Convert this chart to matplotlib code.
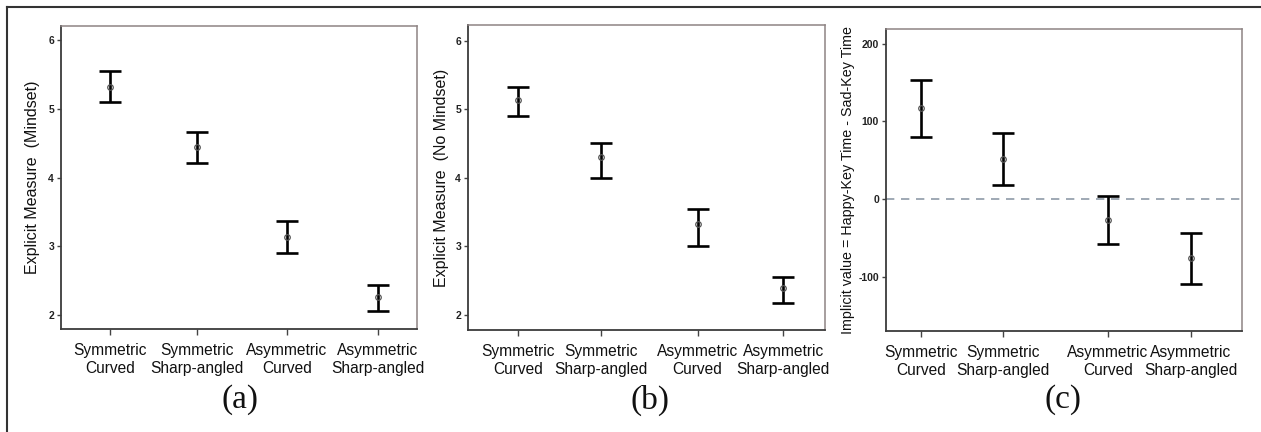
import matplotlib
matplotlib.use("Agg")
import matplotlib.pyplot as plt
from matplotlib.lines import Line2D

plt.rcParams['font.family'] = ['Liberation Sans', 'DejaVu Sans']

categories = ["Symmetric\nCurved", "Symmetric\nSharp-angled",
              "Asymmetric\nCurved", "Asymmetric\nSharp-angled"]

# (a) explicit measure, mindset condition
mindset_mean = [5.32, 4.44, 3.13, 2.25]
mindset_low = [5.10, 4.21, 2.90, 2.05]
mindset_high = [5.56, 4.66, 3.37, 2.43]

# (b) explicit measure, no-mindset condition
nomindset_mean = [5.13, 4.30, 3.32, 2.40]
nomindset_low = [4.90, 4.00, 3.00, 2.18]
nomindset_high = [5.33, 4.51, 3.54, 2.55]

# (c) implicit value (happy-key time minus sad-key time)
implicit_mean = [116.9, 51.6, -26.7, -76.6]
implicit_low = [80.4, 18.1, -57.3, -109.7]
implicit_high = [153.5, 85.2, 4.3, -44.4]

explicit_ticks = [2, 3, 4, 5, 6]
implicit_ticks = [-100, 0, 100, 200]

W, H = 1261, 432
fig = plt.figure(figsize=(W / 100, H / 100), dpi=100)

panels = [
    dict(rect=(61, 26, 417, 329), mean=mindset_mean, low=mindset_low, high=mindset_high,
         xpos=[1, 1.97, 2.98, 4.0], xlim=(0.451, 4.437), ylim=(1.79, 6.21),
         yticks=explicit_ticks, ylabel="Explicit Measure  (Mindset)", ylab_x=33, ylab_fs=11.5,
         tag="(a)", tag_x=240, zero=False),
    dict(rect=(468, 25, 825, 330), mean=nomindset_mean, low=nomindset_low, high=nomindset_high,
         xpos=[1, 1.936, 3.031, 4.0], xlim=(0.434, 4.472), ylim=(1.78, 6.23),
         yticks=explicit_ticks, ylabel="Explicit Measure  (No Mindset)", ylab_x=442, ylab_fs=11.5,
         tag="(b)", tag_x=650, zero=False),
    dict(rect=(886, 29, 1242, 331), mean=implicit_mean, low=implicit_low, high=implicit_high,
         xpos=[1, 1.91, 3.076, 4.0], xlim=(0.612, 4.569), ylim=(-170, 219),
         yticks=implicit_ticks, ylabel="Implicit value = Happy-Key Time - Sad-Key Time",
         ylab_x=848, ylab_fs=10.3, tag="(c)", tag_x=1063, zero=True),
]

for p in panels:
    x0, y0, x1, y1 = p["rect"]
    ax = fig.add_axes([x0 / W, 1 - y1 / H, (x1 - x0) / W, (y1 - y0) / H])
    mean, low, high = p["mean"], p["low"], p["high"]
    err = [[m - l for m, l in zip(mean, low)], [h - m for m, h in zip(mean, high)]]
    if p["zero"]:
        ax.axhline(0, color="#8f9ba8", lw=1.2, ls=(0, (5, 4)), zorder=1)
    ax.errorbar(p["xpos"], mean, yerr=err, fmt="none", ecolor="black",
                elinewidth=1.9, capsize=7.8, capthick=1.9, zorder=2)
    ax.plot(p["xpos"], mean, "o", ms=4, mfc="none", mec="#555555", mew=0.9, zorder=3)

    ax.set_xlim(*p["xlim"])
    ax.set_ylim(*p["ylim"])
    ax.set_xticks(p["xpos"])
    ax.set_xticklabels(categories, fontsize=11.2, color="#111111", linespacing=1.25)
    ax.set_yticks(p["yticks"])
    ax.set_yticklabels([str(t) for t in p["yticks"]], fontsize=7.5, color="#222222",
                       fontweight="bold")
    ax.tick_params(axis="x", length=4, width=1.0, color="#444444", pad=6)
    ax.tick_params(axis="y", length=3, width=1.0, color="#444444", pad=2)
    for side in ("left", "bottom"):
        ax.spines[side].set_color("#3c3c3c")
        ax.spines[side].set_linewidth(1.3)
    for side in ("top", "right"):
        ax.spines[side].set_color("#8e8484")
        ax.spines[side].set_linewidth(1.1)

    fig.text(p["ylab_x"] / W, 1 - ((y0 + y1) / 2) / H, p["ylabel"], rotation=90,
             ha="center", va="center", fontsize=p["ylab_fs"], color="#111111")
    fig.text(p["tag_x"] / W, 1 - 400 / H, p["tag"], ha="center", va="center",
             fontsize=24, family=["Liberation Serif", "DejaVu Serif"], color="#111111")

# outer frame lines (top and left)
fig.add_artist(Line2D([7 / W, 7 / W], [0, 1 - 7 / H], color="#333333", lw=1.5,
                      transform=fig.transFigure))
fig.add_artist(Line2D([7 / W, 1], [1 - 7 / H, 1 - 7 / H], color="#333333", lw=1.5,
                      transform=fig.transFigure))

fig.savefig("out.png", dpi=100, facecolor="white")
